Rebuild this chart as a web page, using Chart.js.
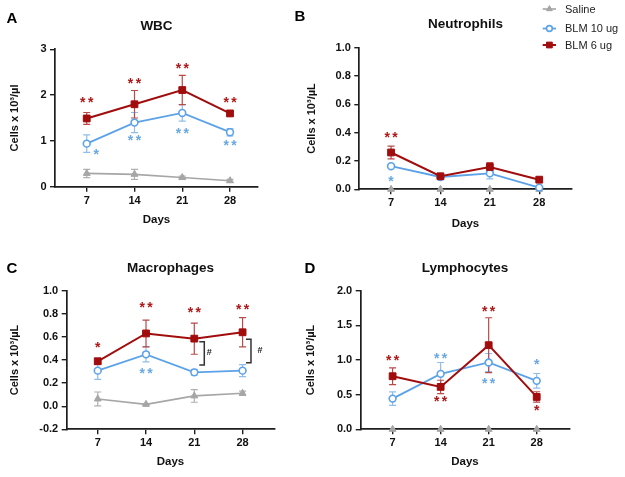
<!DOCTYPE html>
<html>
<head>
<meta charset="utf-8">
<script src="https://cdn.jsdelivr.net/npm/chart.js@4.4.1/dist/chart.umd.min.js"></script>
<style>
  html, body { margin: 0; padding: 0; background: #fff; }
  #wrap { position: relative; width: 625px; height: 477px; }
  #wrap canvas { position: absolute; left: 0; top: 0; }
</style>
</head>
<body>
<div id="wrap">
  <canvas id="cA" width="625" height="477"></canvas>
  <canvas id="cB" width="625" height="477"></canvas>
  <canvas id="cC" width="625" height="477"></canvas>
  <canvas id="cD" width="625" height="477"></canvas>
</div>
<script>
const days = [7, 14, 21, 28];
const seriesNames = ['Saline', 'BLM 10 ug', 'BLM 6 ug'];

// WBC
const wbcSaline = [0.29, 0.27, 0.20, 0.13];
const wbcSalineErr = [0.09, 0.11, 0.03, 0.03];
const wbcBlm10 = [0.94, 1.40, 1.61, 1.19];
const wbcBlm10Err = [0.19, 0.22, 0.18, 0.08];
const wbcBlm6 = [1.49, 1.80, 2.11, 1.60];
const wbcBlm6Err = [0.13, 0.30, 0.32, 0.05];

// Neutrophils
const neuSaline = [0, 0, 0, 0];
const neuSalineErr = [0, 0, 0, 0];
const neuBlm10 = [0.163, 0.087, 0.113, 0.012];
const neuBlm10Err = [0.01, 0.01, 0.04, 0.01];
const neuBlm6 = [0.26, 0.092, 0.158, 0.068];
const neuBlm6Err = [0.045, 0.01, 0.03, 0.008];

// Macrophages
const macSaline = [0.063, 0.016, 0.089, 0.112];
const macSalineErr = [0.06, 0.005, 0.055, 0.018];
const macBlm10 = [0.308, 0.449, 0.293, 0.308];
const macBlm10Err = [0.075, 0.066, 0.025, 0.052];
const macBlm6 = [0.389, 0.63, 0.585, 0.64];
const macBlm6Err = [0.025, 0.116, 0.135, 0.127];

// Lymphocytes
const lymSaline = [0, 0, 0, 0];
const lymSalineErr = [0, 0, 0, 0];
const lymBlm10 = [0.443, 0.80, 0.964, 0.699];
const lymBlm10Err = [0.097, 0.164, 0.13, 0.106];
const lymBlm6 = [0.766, 0.612, 1.214, 0.467];
const lymBlm6Err = [0.12, 0.096, 0.396, 0.075];

// significance marks: [day, value, text, series]
const wbcStars = [[7, 1.91, '**', 'blm6'], [14, 2.33, '**', 'blm6'], [21, 2.64, '**', 'blm6'], [28, 1.91, '**', 'blm6'],
                  [8.4, 0.77, '*', 'blm10'], [14, 1.07, '**', 'blm10'], [21, 1.24, '**', 'blm10'], [28, 0.97, '**', 'blm10']];
const neuStars = [[7, 0.39, '**', 'blm6'], [7, 0.08, '*', 'blm10']];
const macStars = [[7, 0.535, '*', 'blm6'], [14, 0.88, '**', 'blm6'], [21, 0.84, '**', 'blm6'], [28, 0.86, '**', 'blm6'],
                  [14, 0.31, '**', 'blm10']];
const lymStars = [[7, 1.036, '**', 'blm6'], [14, 0.44, '**', 'blm6'], [21, 1.75, '**', 'blm6'], [28, 0.31, '*', 'blm6'],
                  [14, 1.065, '**', 'blm10'], [21, 0.70, '**', 'blm10'], [28, 0.98, '*', 'blm10']];
// brackets: [day, top value, bottom value, label day, label value]
const macBrackets = [[22.45, 0.558, 0.356, 23.18, 0.463], [29.22, 0.58, 0.376, 30.53, 0.486]];

const FONT = '"Liberation Sans", Arial, Helvetica, sans-serif';
const AXIS = '#1e1e1e';
const COLORS = {saline: '#a6a6a6', blm10: '#5ca2e8', blm6: '#a10c0c'};
const ERR_COLORS = {saline: '#b0b0b0', blm10: '#8fbdec', blm6: '#b84a4a'};
const STAR_COLORS = {blm10: '#6aa8e4', blm6: '#b01717'};
const W = 625, H = 477;

Chart.defaults.font.family = FONT;

const panels = [
  {id: 'cA', letter: 'A', letterAt: [12, 18.5], title: 'WBC', yTitle: 'Cells x 10³/µl',
   yMin: 0, yMax: 3, yStep: 1, dec: 0, salineLine: true,
   vals: [[wbcSaline, wbcSalineErr], [wbcBlm10, wbcBlm10Err], [wbcBlm6, wbcBlm6Err]],
   stars: wbcStars, brackets: [], legend: false,
   box: {left: 55, right: 258, top: 49.3, bottom: 186.7, padTop: 0, yTitleX: 15, titleY: 26.7, daysY: 220, xMin: 2.35, xMax: 32.1}},
  {id: 'cB', letter: 'B', letterAt: [300, 16.5], title: 'Neutrophils', yTitle: 'Cells x 10³/µL',
   yMin: 0, yMax: 1, yStep: 0.2, dec: 1, salineLine: false,
   vals: [[neuSaline, neuSalineErr], [neuBlm10, neuBlm10Err], [neuBlm6, neuBlm6Err]],
   stars: neuStars, brackets: [], legend: true,
   box: {left: 359.3, right: 571.7, top: 47.7, bottom: 189.3, padTop: 0, yTitleX: 311.5, titleY: 24.3, daysY: 224, xMin: 2.5, xMax: 32.6}},
  {id: 'cC', letter: 'C', letterAt: [12, 268.7], title: 'Macrophages', yTitle: 'Cells x 10³/µL',
   yMin: -0.2, yMax: 1, yStep: 0.2, dec: 1, salineLine: true,
   vals: [[macSaline, macSalineErr], [macBlm10, macBlm10Err], [macBlm6, macBlm6Err]],
   stars: macStars, brackets: macBrackets, legend: false,
   box: {left: 66.7, right: 274.3, top: 290.7, bottom: 429.3, padTop: 238, yTitleX: 15, titleY: 268.3, daysY: 462.3, xMin: 2.5, xMax: 32.6}},
  {id: 'cD', letter: 'D', letterAt: [310, 268.7], title: 'Lymphocytes', yTitle: 'Cells x 10³/µL',
   yMin: 0, yMax: 2, yStep: 0.5, dec: 1, salineLine: false,
   vals: [[lymSaline, lymSalineErr], [lymBlm10, lymBlm10Err], [lymBlm6, lymBlm6Err]],
   stars: lymStars, brackets: [], legend: false,
   box: {left: 360.7, right: 569.3, top: 290.7, bottom: 429.3, padTop: 238, yTitleX: 310.5, titleY: 268.3, daysY: 462.3, xMin: 2.35, xMax: 32.75}}
];

const keys = ['saline', 'blm10', 'blm6'];
const pointStyles = {
  saline: {pointStyle: 'triangle', pointRadius: 4, pointBorderWidth: 1, pointBackgroundColor: COLORS.saline, borderWidth: 1.6},
  blm10: {pointStyle: 'circle', pointRadius: 3.4, pointBorderWidth: 1.6, pointBackgroundColor: '#fff', borderWidth: 1.8},
  blm6: {pointStyle: 'rect', pointRadius: 4.8, pointBorderWidth: 1, pointBackgroundColor: COLORS.blm6, borderWidth: 2}
};

const errorBars = {
  id: 'errorBars',
  beforeDatasetsDraw(chart) {
    const {ctx, scales: {x, y}} = chart;
    chart.data.datasets.forEach(ds => {
      ctx.save();
      ctx.strokeStyle = ds.errColor;
      ctx.lineWidth = 1.2;
      ds.data.forEach((pt, i) => {
        const e = ds.errors[i];
        if (!e) return;
        const px = x.getPixelForValue(pt.x);
        const t = y.getPixelForValue(pt.y + e), b = y.getPixelForValue(pt.y - e);
        ctx.beginPath();
        ctx.moveTo(px, t); ctx.lineTo(px, b);
        ctx.moveTo(px - 3.5, t); ctx.lineTo(px + 3.5, t);
        ctx.moveTo(px - 3.5, b); ctx.lineTo(px + 3.5, b);
        ctx.stroke();
      });
      ctx.restore();
    });
  }
};

function drawStar(ctx, x, y) {
  ctx.fillText('*', x, y + 7.6);
}

function fmt(v, dec) {
  const n = Math.abs(v) < 1e-9 ? 0 : Number(v);
  return n.toFixed(dec);
}

function makeChart(p) {
  const b = p.box;
  const yTitleLH = 11 * 1.2, xTitleLH = 11.5 * 1.2, titleLH = 13.5 * 1.2;
  const padLeft = b.yTitleX - yTitleLH / 2;
  const scaleBottom = b.daysY + xTitleLH / 2;

  const datasets = keys.map((k, s) => ({
    label: seriesNames[s],
    data: days.map((d, i) => ({x: d, y: p.vals[s][0][i]})),
    errors: p.vals[s][1],
    errColor: ERR_COLORS[k],
    borderColor: COLORS[k],
    backgroundColor: COLORS[k],
    pointBorderColor: COLORS[k],
    showLine: k !== 'saline' || p.salineLine,
    tension: 0,
    clip: false,
    order: 3 - s,
    ...pointStyles[k]
  }));

  const marks = {
    id: 'marks',
    afterDatasetsDraw(chart) {
      const {ctx, scales: {x, y}} = chart;
      ctx.save();
      ctx.font = 'bold 14px ' + FONT;
      ctx.textAlign = 'center';
      ctx.textBaseline = 'alphabetic';
      p.stars.forEach(([d, v, txt, k]) => {
        const px = x.getPixelForValue(d), py = y.getPixelForValue(v);
        ctx.fillStyle = STAR_COLORS[k];
        if (txt === '**') { drawStar(ctx, px - 3.9, py); drawStar(ctx, px + 3.9, py); }
        else drawStar(ctx, px, py);
      });
      p.brackets.forEach(([d, v1, v2, ld, lv]) => {
        const px = x.getPixelForValue(d);
        const y1 = y.getPixelForValue(v1), y2 = y.getPixelForValue(v2);
        ctx.strokeStyle = '#333';
        ctx.lineWidth = 1.5;
        ctx.beginPath();
        ctx.moveTo(px - 5, y1); ctx.lineTo(px, y1); ctx.lineTo(px, y2); ctx.lineTo(px - 5, y2);
        ctx.stroke();
        ctx.fillStyle = '#222';
        ctx.font = 'bold 9px ' + FONT;
        ctx.textBaseline = 'middle';
        ctx.fillText('#', x.getPixelForValue(ld), y.getPixelForValue(lv));
        ctx.font = 'bold 14px ' + FONT;
        ctx.textBaseline = 'alphabetic';
      });
      ctx.restore();
    },
    afterDraw(chart) {
      const ctx = chart.ctx;
      ctx.save();
      ctx.fillStyle = '#000';
      ctx.font = 'bold 15px ' + FONT;
      ctx.textAlign = 'center';
      ctx.textBaseline = 'middle';
      ctx.fillText(p.letter, p.letterAt[0], p.letterAt[1]);
      if (p.legend) {
        const rows = [9, 28.5, 45];
        ctx.font = '11px ' + FONT;
        ctx.textAlign = 'left';
        keys.forEach((k, s) => {
          const ds = chart.data.datasets[s];
          const yy = rows[s];
          ctx.strokeStyle = COLORS[k];
          ctx.lineWidth = ds.borderWidth;
          ctx.beginPath(); ctx.moveTo(542.7, yy); ctx.lineTo(556, yy); ctx.stroke();
          ctx.fillStyle = ds.pointBackgroundColor;
          ctx.lineWidth = ds.pointBorderWidth;
          Chart.helpers.drawPoint(ctx, {pointStyle: ds.pointStyle, radius: ds.pointRadius * 0.85, borderWidth: ds.pointBorderWidth, rotation: 0}, 549.4, yy);
          ctx.fillStyle = '#222';
          ctx.fillText(seriesNames[s], 565, yy + 0.5);
        });
      }
      ctx.restore();
    }
  };

  const tickFont = {family: FONT, size: 11, weight: 'bold'};

  return new Chart(document.getElementById(p.id), {
    type: 'line',
    data: {datasets},
    options: {
      responsive: false,
      animation: false,
      devicePixelRatio: 1,
      events: [],
      layout: {padding: {left: padLeft, right: W - b.right, top: b.padTop, bottom: H - scaleBottom}},
      plugins: {
        legend: {display: false},
        tooltip: {enabled: false},
        title: {
          display: true,
          text: p.title,
          fullSize: false,
          color: '#111',
          font: {family: FONT, size: 13.5, weight: 'bold'},
          padding: {top: b.titleY - titleLH / 2 - b.padTop, bottom: b.top - b.titleY - titleLH / 2}
        }
      },
      scales: {
        x: {
          type: 'linear',
          min: b.xMin,
          max: b.xMax,
          afterBuildTicks: s => { s.ticks = days.map(v => ({value: v})); },
          afterFit: s => { s.height = scaleBottom - b.bottom; },
          grid: {drawOnChartArea: false, tickLength: 5, color: AXIS, lineWidth: 1.4},
          border: {color: AXIS, width: 1.7},
          ticks: {padding: 2.5, color: '#111', font: tickFont, callback: v => String(v)},
          title: {display: true, text: 'Days', color: '#111', padding: 0, font: {family: FONT, size: 11.5, weight: 'bold'}}
        },
        y: {
          min: p.yMin,
          max: p.yMax,
          afterFit: s => { s.width = b.left - padLeft; },
          grid: {drawOnChartArea: false, tickLength: 5, color: AXIS, lineWidth: 1.4},
          border: {color: AXIS, width: 1.7},
          ticks: {stepSize: p.yStep, padding: 3.5, color: '#111', font: tickFont, callback: v => fmt(v, p.dec)},
          title: {display: true, text: p.yTitle, color: '#111', padding: 0, font: {family: FONT, size: 11, weight: 'bold'}}
        }
      }
    },
    plugins: [errorBars, marks]
  });
}

panels.forEach(makeChart);
</script>
</body>
</html>
